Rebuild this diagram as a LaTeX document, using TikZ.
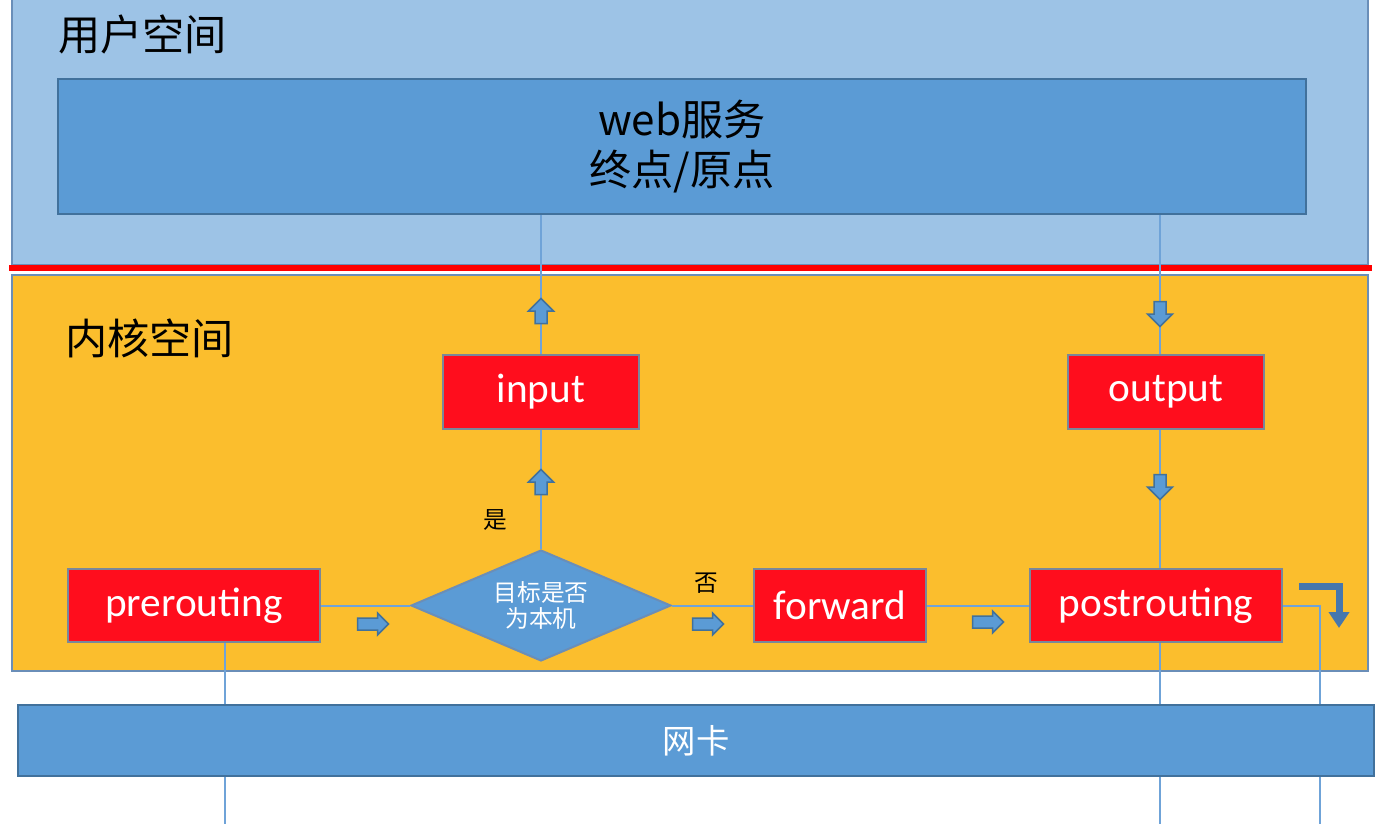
\documentclass[tikz,border=0pt]{standalone}
\usepackage{fontspec}
\setmainfont{Carlito}
\newfontfamily\cjk{Noto Sans CJK SC}
\usetikzlibrary{shapes.geometric,arrows.meta}
\definecolor{userblue}{HTML}{9DC3E6}
\definecolor{midblue}{HTML}{5B9BD5}
\definecolor{blueline}{HTML}{41719C}
\definecolor{frameline}{HTML}{6A8EB8}
\definecolor{linkblue}{HTML}{6FA3D8}
\definecolor{kernelyellow}{HTML}{FBBE2D}
\definecolor{boxred}{HTML}{FF0D1D}
\definecolor{redline}{HTML}{7A8799}
\definecolor{bentblue}{HTML}{4677AD}
\tikzset{
    pics/tallarrow/.style={code={
        \path[draw=blueline,fill=midblue,line width=0.03cm]
            (-6,12.5) -- (-6,0) -- (-12.5,0) -- (0,-12.5) -- (12.5,0) -- (6,0) -- (6,12.5) -- cycle;}},
    pics/flatarrow/.style={code={
        \path[draw=blueline,fill=midblue,line width=0.03cm]
            (-15.5,-6) -- (4.5,-6) -- (4.5,-11) -- (15.5,0) -- (4.5,11) -- (4.5,6) -- (-15.5,6) -- cycle;}}
}
\begin{document}
\begin{tikzpicture}[x=0.02cm,y=-0.02cm,
        redbox/.style={draw=redline,fill=boxred,line width=0.04cm,text=white,
            minimum height=1.48cm,inner sep=0pt,font=\fontsize{23.5}{28}\selectfont},
        bluebox/.style={draw=blueline,fill=midblue,line width=0.04cm,inner sep=0pt},
        link/.style={draw=linkblue,line width=0.04cm},
        bentarrow/.style={draw=bentblue,line width=0.14cm,line join=miter,
            -{Triangle[width=0.4cm,length=0.32cm]}}]
        \useasboundingbox (0,0) rectangle (1392,824);

        % user space and kernel space
        \filldraw[fill=userblue,draw=frameline,line width=0.04cm] (12,-5) rectangle (1368,265);
        \filldraw[fill=kernelyellow,draw=frameline,line width=0.04cm] (12,275) rectangle (1368,671);
        \draw[red,line width=0.14cm] (9,268) -- (1372,268);
        \draw (52,34) node[anchor=west,font=\cjk\fontsize{24}{28}\selectfont](ut) {用户空间};
        \draw (59,338) node[anchor=west,font=\cjk\fontsize{24}{28}\selectfont](kt) {内核空间};

        \draw (682,146.5) node[bluebox,minimum width=24.96cm,minimum height=2.7cm,align=center,
            font=\cjk\fontsize{24}{28.5}\selectfont](web) {web服务\\终点/原点};

        % chains
        \draw (541,392) node[redbox,minimum width=3.92cm](in) {input};
        \draw (1166,392) node[redbox,minimum width=3.92cm](out) {output};
        \draw (194,605.5) node[redbox,minimum width=5.04cm](pre) {prerouting};
        \draw (840,605.5) node[redbox,minimum width=3.44cm](fwd) {forward};
        \draw (1156,605.5) node[redbox,minimum width=5.04cm](post) {postrouting};
        \draw (541,605.5) node[diamond,aspect=2.34,fill=midblue,draw=frameline,line width=0.04cm,
            minimum width=5.2cm,minimum height=2.22cm,inner sep=0pt,text=white,align=center,
            font=\cjk\fontsize{13.5}{14.8}\selectfont](dia) {目标是否\\为本机};
        \draw (495,520) node[font=\cjk\fontsize{13.5}{15}\selectfont](yes) {是};
        \draw (706,583) node[font=\cjk\fontsize{13.5}{15}\selectfont](no) {否};

        \coordinate (pbot) at (225,824);
        \coordinate (obot) at (1160,824);
        \coordinate (nicr) at (1320,824);

        \draw[link] (pre) -- (dia);
        \draw[link] (dia) -- (fwd);
        \draw[link] (fwd) -- (post);
        \draw[link] (dia) -- (in);
        \draw[link] (in.north) -- (in.north |- web.south);
        \draw[link] (web.south -| obot) -- (out.north -| obot);
        \draw[link] (out.south -| obot) -- (post.north -| obot);
        \draw[link] (post.south -| obot) -- (obot);
        \draw[link] (pre.south -| pbot) -- (pbot);
        \draw[link] (post.east) -| (nicr);

        \draw (696,740.5) node[bluebox,minimum width=27.12cm,minimum height=1.42cm,text=white,
            font=\cjk\fontsize{19}{22}\selectfont](nic) {网卡};

        % small arrows
        \pic at (541,311) {tallarrow};
        \pic at (541,482) {tallarrow};
        \pic[rotate=180] at (1160,314) {tallarrow};
        \pic[rotate=180] at (1160,487) {tallarrow};
        \pic at (373,624) {flatarrow};
        \pic at (708,624) {flatarrow};
        \pic at (988,622) {flatarrow};

        \coordinate (b1) at (1299,586.5);
        \coordinate (b2) at (1339,586.5);
        \coordinate (b3) at (1339,628);
        \draw[bentarrow] (b1) -- (b2) -- (b3);
    \end{tikzpicture}
\end{document}
